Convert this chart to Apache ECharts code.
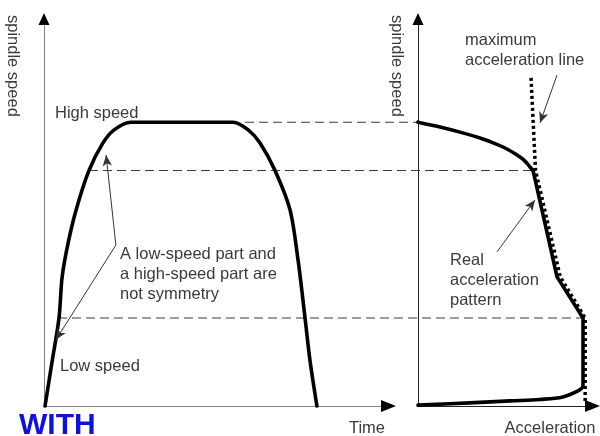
<!DOCTYPE html>
<html>
<head>
<meta charset="utf-8">
<script src="https://cdn.jsdelivr.net/npm/echarts@6/dist/echarts.min.js"></script>
<style>
  html, body { margin: 0; padding: 0; background: #fff; }
  #chart { width: 600px; height: 436px; }
</style>
</head>
<body>
<div id="chart"></div>
<script>
// Speed levels (relative units, high speed = 100)
const highSpeed = 100;
const midSpeed = 83;
const lowSpeed = 31;

// Spindle speed over time: [time, speed]
const timeSpeedCurve = [
  [0.3, 0], [2.3, 15.5], [4.3, 31], [5.2, 45.5], [6.9, 57.4],
  [9.2, 69.1], [12.9, 83], [16.9, 92.7], [20.1, 97.3], [24.9, 100],
  [54.2, 100], [58.5, 97.3], [61.9, 92.7], [66.2, 83], [70.5, 69.1],
  [72.8, 51.4], [74.8, 31], [76.2, 16.2], [78.2, 0]
];

// Real acceleration pattern: [acceleration, speed]
const realAccelTop = [
  [0, 100], [12.3, 98.3], [23.4, 96.5], [34.6, 94.4], [41.9, 92.7],
  [48.6, 90.9], [55.3, 88.4], [59.7, 86.3], [62.5, 84.2], [64.2, 83]
];
const realAccelSteps = [[64.2, 83], [77.6, 45.5], [92.1, 31], [92.1, 6.7]];
const realAccelBottom = [
  [92.1, 6.7], [89.3, 5.3], [80.9, 3.2], [68.1, 2.3], [51.4, 1.8],
  [29, 1.1], [0, 0.3]
];

// Maximum acceleration line: [acceleration, speed]
const maxAccelLine = [[63.1, 115.6], [65.6, 83], [79.4, 45.5], [93.3, 31], [93.3, 1]];

// Horizontal reference lines: [left time, right acceleration, speed]
const guideLines = [
  [57.6, 0, highSpeed],
  [12.9, 64.2, midSpeed],
  [4.0, 93.3, lowSpeed]
];

// Annotation arrows: [from, to]
const noteArrowsLeft = [
  [[20.6, 56.7], [17.8, 88.4]],
  [[20.6, 56.7], [3.4, 23.3]]
];
const noteArrowsRight = [
  [[77.6, 116.6], [68.1, 99.7]],
  [[44.1, 54.3], [65.3, 72.6]]
];

const SPEED_MAX = 136;
const TIME_MAX = 98;
const ACCEL_MAX = 96;

const FONT = '"Liberation Sans", Arial, sans-serif';
const TEXT = '#3a3a3a';

const chart = echarts.init(document.getElementById('chart'), null, { renderer: 'canvas' });

function axisPair(gridIndex, max, color) {
  const line = { show: true, lineStyle: { color: color, width: 1 } };
  const common = {
    type: 'value', gridIndex, min: 0,
    axisLine: line, axisTick: { show: false }, axisLabel: { show: false },
    splitLine: { show: false }
  };
  return {
    x: Object.assign({ max }, common),
    y: Object.assign({ max: SPEED_MAX }, common)
  };
}
const leftAxes = axisPair(0, TIME_MAX, '#808080');
const rightAxes = axisPair(1, ACCEL_MAX, '#222');

function arrowMarks(pairs) {
  return {
    silent: true,
    symbol: ['none', 'arrow'],
    symbolSize: [7, 11],
    label: { show: false },
    lineStyle: { color: '#333', width: 1, type: 'solid' },
    data: pairs.map(p => [{ coord: p[0] }, { coord: p[1] }])
  };
}

const thick = { color: '#000', width: 3.6, cap: 'round', join: 'round' };

chart.setOption({
  animation: false,
  grid: [
    { left: 44, top: 20, width: 342, height: 386 },
    { left: 418, top: 20, width: 172, height: 386 }
  ],
  xAxis: [leftAxes.x, rightAxes.x],
  yAxis: [leftAxes.y, rightAxes.y],
  series: [
    {
      type: 'line', xAxisIndex: 0, yAxisIndex: 0, data: timeSpeedCurve,
      smooth: 0.3, showSymbol: false, lineStyle: thick, clip: false,
      markLine: arrowMarks(noteArrowsLeft)
    },
    {
      type: 'line', xAxisIndex: 1, yAxisIndex: 1, data: maxAccelLine,
      showSymbol: false, clip: false,
      lineStyle: { color: '#000', width: 3.5, type: [3, 3], cap: 'butt' }
    },
    {
      type: 'line', xAxisIndex: 1, yAxisIndex: 1, data: realAccelTop,
      smooth: 0.35, showSymbol: false, lineStyle: thick, clip: false,
      markLine: arrowMarks(noteArrowsRight)
    },
    {
      type: 'line', xAxisIndex: 1, yAxisIndex: 1, data: realAccelSteps,
      showSymbol: false, lineStyle: thick, clip: false
    },
    {
      type: 'line', xAxisIndex: 1, yAxisIndex: 1, data: realAccelBottom,
      smooth: 0.35, showSymbol: false, lineStyle: thick, clip: false
    }
  ]
});

// Dashed guides join the left curve to the right curve at equal speed
const dashes = guideLines.map(g => {
  const p1 = chart.convertToPixel({ gridIndex: 0 }, [g[0], g[2]]);
  const p2 = chart.convertToPixel({ gridIndex: 1 }, [g[1], g[2]]);
  return {
    type: 'line', silent: true, z: 1,
    shape: { x1: p1[0], y1: p1[1], x2: p2[0], y2: p2[1] },
    style: { stroke: '#3a3a3a', lineWidth: 1.1, lineDash: [9, 5] }
  };
});

// Solid arrowheads at the far end of each axis
function axisHead(gridIndex, value, dir) {
  const p = chart.convertToPixel({ gridIndex }, value);
  const x = p[0], y = p[1];
  const pts = dir === 'up'
    ? [[x, y - 7], [x - 5.5, y + 5], [x + 5.5, y + 5]]
    : [[x + 10, y], [x - 5, y - 6], [x - 5, y + 6]];
  return {
    type: 'polygon', silent: true, z: 5,
    shape: { points: pts }, style: { fill: '#000' }
  };
}
const heads = [
  axisHead(0, [0, SPEED_MAX], 'up'),
  axisHead(0, [TIME_MAX, 0], 'right'),
  axisHead(1, [0, SPEED_MAX], 'up'),
  axisHead(1, [ACCEL_MAX, 0], 'right')
];

function label(text, x, y, opts) {
  return Object.assign({
    type: 'text', x, y, silent: true, z: 10,
    style: Object.assign({
      text, fill: TEXT, font: '16.5px ' + FONT, lineHeight: 20,
      verticalAlign: 'middle'
    }, (opts && opts.style) || {})
  }, (opts && opts.el) || {});
}

const texts = [
  label('High speed', 55, 113),
  label('Low speed', 60, 366),
  label('A low-speed part and\na high-speed part are\nnot symmetry', 120, 274),
  label('maximum\nacceleration line', 465, 50),
  label('Real\nacceleration\npattern', 450, 280),
  label('Time', 367, 428, { style: { align: 'center' } }),
  label('Acceleration', 550, 428, { style: { align: 'center' } }),
  label('spindle speed', 13, 15, {
    style: { verticalAlign: 'middle', align: 'left' },
    el: { rotation: -Math.PI / 2 }
  }),
  label('spindle speed', 397, 15, {
    style: { verticalAlign: 'middle', align: 'left' },
    el: { rotation: -Math.PI / 2 }
  }),
  label('WITH', 19, 426, {
    style: { fill: '#1010dd', font: 'bold 30px ' + FONT }
  })
];

chart.setOption({ graphic: dashes.concat(heads, texts) });
</script>
</body>
</html>
